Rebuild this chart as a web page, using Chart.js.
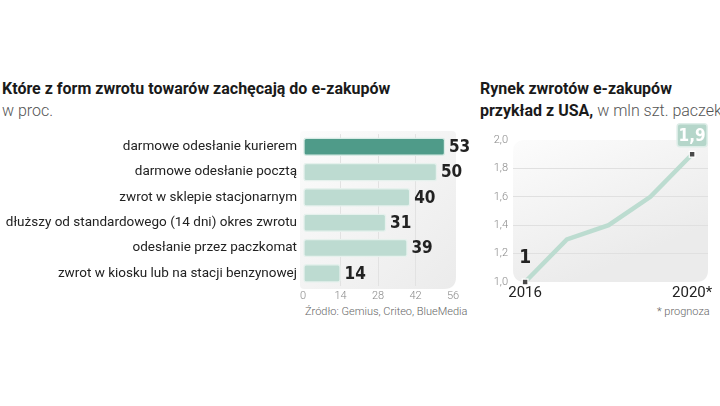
<!DOCTYPE html>
<html><head><meta charset="utf-8">
<script src="https://cdn.jsdelivr.net/npm/chart.js@4/dist/chart.umd.min.js"></script>
<style>
html,body{margin:0;padding:0;background:#fff;width:720px;height:406px;overflow:hidden;position:relative;font-family:Roboto,sans-serif}
.t{position:absolute;white-space:nowrap;color:#1a1a1a}
.b{font-weight:700;font-size:16px}
.l{font-weight:300;font-size:16px;color:#555}
canvas{position:absolute}
</style></head><body>
<div class="t b" style="left:2px;top:79px">Które z form zwrotu towarów zachęcają do e-zakupów</div>
<div class="t l" style="left:2px;top:101px">w proc.</div>
<div class="t b" style="left:480px;top:79px">Rynek zwrotów e-zakupów</div>
<div class="t" style="left:480px;top:101px;font-size:16px"><span style="font-weight:700">przykład z USA,</span><span style="font-weight:300;color:#555"> w mln szt. paczek</span></div>
<div class="t" style="left:305px;top:305px;font-size:11px;font-weight:300;color:#666">Źródło: Gemius, Criteo, BlueMedia</div>
<div class="t" style="left:657px;top:305px;font-size:11px;font-weight:300;color:#666">* prognoza</div>
<div style="position:absolute;left:0;top:120px;width:470px;height:200px"><canvas id="bar"></canvas></div>
<div style="position:absolute;left:470px;top:120px;width:250px;height:200px"><canvas id="line"></canvas></div>
<script>
const categories = ["darmowe odesłanie kurierem","darmowe odesłanie pocztą","zwrot w sklepie stacjonarnym","dłuższy od standardowego (14 dni) okres zwrotu","odesłanie przez paczkomat","zwrot w kiosku lub na stacji benzynowej"];
const values = [53,50,40,31,39,14];
const barTicks = [0,14,28,42,56];
const years = [2016,2017,2018,2019,2020];
const usaValues = [1.0,1.3,1.4,1.6,1.9];
const yearLabels = {2016:"2016",2020:"2020*"};
const lineTicks = [1.0,1.2,1.4,1.6,1.8,2.0];

function roundRect(ctx,x,y,w,h,r){
  ctx.beginPath();
  ctx.moveTo(x+r[0],y);
  ctx.lineTo(x+w-r[1],y);ctx.quadraticCurveTo(x+w,y,x+w,y+r[1]);
  ctx.lineTo(x+w,y+h-r[2]);ctx.quadraticCurveTo(x+w,y+h,x+w-r[2],y+h);
  ctx.lineTo(x+r[3],y+h);ctx.quadraticCurveTo(x,y+h,x,y+h-r[3]);
  ctx.lineTo(x,y+r[0]);ctx.quadraticCurveTo(x,y,x+r[0],y);
  ctx.closePath();
}
const panel = {
  id:'panel',
  beforeDraw(chart,args,opts){
    const {ctx,chartArea:a}=chart;
    const x=a.left-opts.l, y=a.top-opts.t, w=a.right-a.left+opts.l+opts.r, h=a.bottom-a.top+opts.t+opts.b;
    const g=ctx.createLinearGradient(x,y,x+w*opts.gx,y+h);
    g.addColorStop(0,'#fcfcfc');g.addColorStop(1,'#ebebeb');
    ctx.save();ctx.fillStyle=g;roundRect(ctx,x,y,w,h,opts.rad);ctx.fill();ctx.restore();
  }
};
const barValues = {
  id:'barValues',
  afterDatasetsDraw(chart){
    const {ctx}=chart;const meta=chart.getDatasetMeta(0);
    ctx.save();ctx.font='bold 17px "DejaVu Sans Condensed", "DejaVu Sans"';ctx.fillStyle='#222';
    ctx.textBaseline='middle';ctx.textAlign='left';
    meta.data.forEach((el,i)=>{ctx.fillText(String(values[i]),el.x+4,el.y+1);});
    ctx.restore();
  }
};
Chart.defaults.font.family='Roboto';
new Chart(document.getElementById('bar'),{
  type:'bar',
  data:{labels:categories,datasets:[{data:values,
    backgroundColor:values.map((v,i)=>i===0?'#4f9b89':'#bddbd1'),
    borderColor:values.map((v,i)=>i===0?'#d8ebe5':'#e6f1ed'),
    borderWidth:1.5,borderRadius:3,borderSkipped:false,
    barThickness:18}]},
  options:{indexAxis:'y',responsive:true,maintainAspectRatio:false,animation:false,
    layout:{padding:{top:5,right:17,bottom:14,left:0}},
    plugins:{legend:{display:false},tooltip:{enabled:false},
      panel:{l:3,r:3,t:3,b:3,gx:1,rad:[4,4,12,4]}},
    scales:{
      x:{min:0,max:56,afterBuildTicks(s){s.ticks=barTicks.map(v=>({value:v}));},
        afterFit(s){s.height=20;},
        grid:{drawTicks:false,color:ctx=>(ctx.tick&&(ctx.tick.value===0||ctx.tick.value===56))?'rgba(0,0,0,0)':'#e2e2e2',lineWidth:1},
        border:{display:false},
        ticks:{padding:4,color:'#888',font:{size:11,weight:300}}},
      y:{afterFit(s){s.width=303;},grid:{display:false,drawTicks:false},border:{display:false},
        ticks:{padding:6,color:'#222',font:{size:13.5,weight:400}}}
    }},
  plugins:[panel,barValues]
});

const lineLabels = {
  id:'lineLabels',
  afterDatasetsDraw(chart){
    const {ctx}=chart;const pts=chart.getDatasetMeta(0).data;
    const fmt=v=>v.toFixed(1).replace('.',',').replace(/,0$/,'');
    ctx.save();
    const p0=pts[0];
    ctx.font='bold 19px "DejaVu Sans Condensed", "DejaVu Sans"';ctx.fillStyle='#222';
    ctx.textAlign='center';ctx.textBaseline='middle';
    ctx.fillText(fmt(usaValues[0]),p0.x,p0.y-24);
    const pn=pts[pts.length-1];
    const bw=30,bh=23,bx=pn.x-bw/2,by=pn.y-19-bh/2;
    ctx.fillStyle='#b5d6ca';ctx.strokeStyle='#deede8';ctx.lineWidth=1.5;
    roundRect(ctx,bx,by,bw,bh,[3,3,3,3]);ctx.fill();ctx.stroke();
    ctx.fillStyle='#fff';ctx.font='bold 17px "DejaVu Sans Condensed", "DejaVu Sans"';
    ctx.fillText(fmt(usaValues[usaValues.length-1]),pn.x,by+bh/2+1);
    ctx.restore();
  }
};
new Chart(document.getElementById('line'),{
  type:'line',
  data:{datasets:[{data:years.map((y,i)=>({x:y,y:usaValues[i]})),
    borderColor:'#bcdcd0',borderWidth:4.5,tension:0,clip:false,
    pointRadius:usaValues.map((v,i)=>(i===0||i===usaValues.length-1)?4:0),
    pointStyle:'rect',pointBackgroundColor:'#4a4a4a',pointBorderColor:'#fff',pointBorderWidth:1.2}]},
  options:{responsive:true,maintainAspectRatio:false,animation:false,
    layout:{padding:{top:20,right:12,bottom:14,left:0}},
    plugins:{legend:{display:false},tooltip:{enabled:false},
      panel:{l:0,r:0,t:0,b:0,gx:0.3,rad:[12,4,12,12]}},
    scales:{
      x:{type:'linear',min:2015.71,max:2020.38,
        afterBuildTicks(s){s.ticks=Object.keys(yearLabels).map(v=>({value:+v}));},
        afterFit(s){s.height=24;},
        grid:{display:false,drawTicks:false},border:{display:false},
        ticks:{padding:2,color:'#222',font:{size:15,weight:400},callback:v=>yearLabels[v]}},
      y:{min:1,max:2,afterBuildTicks(s){s.ticks=lineTicks.map(v=>({value:v}));},
        afterFit(s){s.width=43;},
        grid:{drawTicks:false,color:ctx=>(ctx.tick&&(ctx.tick.value===1||ctx.tick.value===2))?'rgba(0,0,0,0)':'#e0e0e0'},
        border:{display:false},
        ticks:{padding:5,color:'#888',font:{size:11,weight:300},callback:v=>v.toFixed(1).replace('.',',')}}
    }},
  plugins:[panel,lineLabels]
});
</script>
</body></html>
